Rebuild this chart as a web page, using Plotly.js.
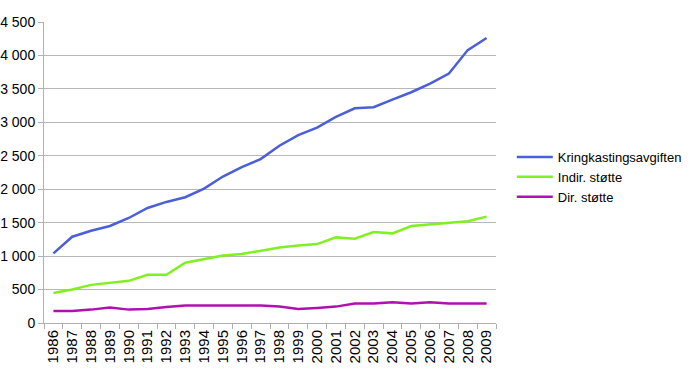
<!DOCTYPE html>
<html>
<head>
<meta charset="utf-8">
<script src="https://cdn.plot.ly/plotly-3.0.1.min.js"></script>
<style>body{margin:0;background:#fff;} #chart{width:700px;height:383px;}</style>
</head>
<body>
<div id="chart"></div>
<script>
const years = ["1986","1987","1988","1989","1990","1991","1992","1993","1994","1995","1996","1997","1998","1999","2000","2001","2002","2003","2004","2005","2006","2007","2008","2009"];
const kringkasting = [1040,1290,1380,1450,1570,1720,1810,1880,2010,2190,2330,2450,2650,2810,2920,3080,3210,3225,3340,3450,3580,3730,4080,4260];
const indirStotte = [450,500,570,600,630,720,720,900,950,1010,1030,1080,1130,1160,1180,1280,1260,1360,1340,1450,1470,1500,1520,1590];
const dirStotte = [180,180,200,230,200,210,240,260,260,260,260,260,245,210,225,245,290,290,310,290,310,290,290,290];
const yTickVals = [0,500,1000,1500,2000,2500,3000,3500,4000,4500];
const yTickText = ["0","500","1 000","1 500","2 000","2 500","3 000","3 500","4 000","4 500"];

const traces = [
  {x: years, y: kringkasting, name: "Kringkastingsavgiften", type: "scatter", mode: "lines", line: {color: "#4a5fd8", width: 2.5}},
  {x: years, y: indirStotte, name: "Indir. støtte", type: "scatter", mode: "lines", line: {color: "#80f020", width: 2.5}},
  {x: years, y: dirStotte, name: "Dir. støtte", type: "scatter", mode: "lines", line: {color: "#b010b0", width: 2.5}}
];

const layout = {
  width: 700, height: 383,
  margin: {l: 44, r: 204, t: 22, b: 60},
  paper_bgcolor: "#fff", plot_bgcolor: "#fff",
  font: {family: "Liberation Sans, Arial, sans-serif", size: 14, color: "#000"},
  showlegend: true,
  legend: {x: 1.035, xanchor: "left", y: 0.485, yanchor: "middle", font: {size: 13}, tracegroupgap: 0, itemwidth: 36, bgcolor: "rgba(0,0,0,0)"},
  xaxis: {
    type: "category", tickvals: years, ticktext: years, range: [-0.5, years.length - 0.5],
    tickson: "boundaries", ticks: "outside", ticklen: 5, tickcolor: "#b0b0b0",
    tickangle: -90, showgrid: false, showline: true, linecolor: "#b0b0b0", linewidth: 1,
    zeroline: false, tickfont: {size: 15}
  },
  yaxis: {
    range: [0, 4500], tickvals: yTickVals, ticktext: yTickText,
    ticks: "outside", ticklen: 5, tickcolor: "#b0b0b0",
    showgrid: true, gridcolor: "#b8b8b8", gridwidth: 1,
    showline: true, linecolor: "#b0b0b0", linewidth: 1, zeroline: false,
    tickfont: {size: 14}
  }
};

Plotly.newPlot("chart", traces, layout, {displayModeBar: false, staticPlot: true});
</script>
</body>
</html>
